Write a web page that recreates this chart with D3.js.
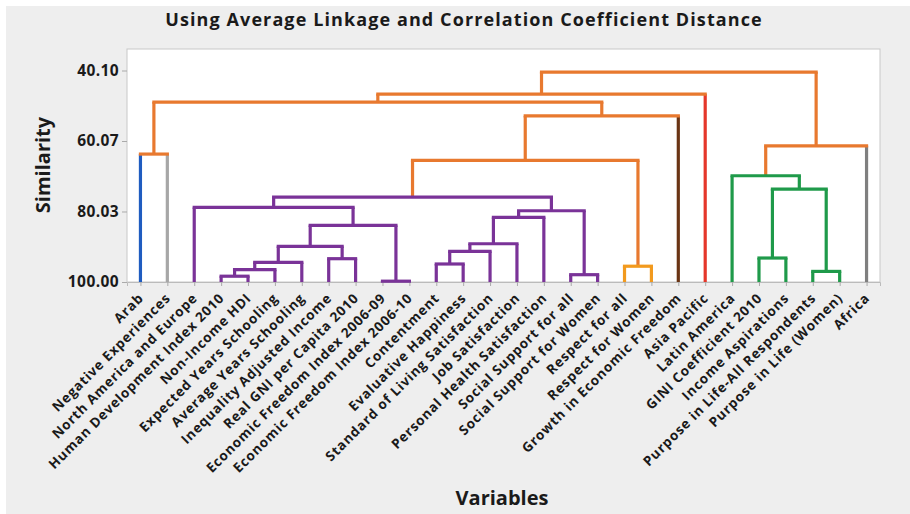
<!DOCTYPE html>
<html>
<head>
<meta charset="utf-8">
<script src="https://cdn.jsdelivr.net/npm/d3@7"></script>
<style>
  body { margin: 0; background: #fff; }
  text { font-family: "Open Sans", "DejaVu Sans", sans-serif; font-weight: bold; fill: #1a1a1a; }
</style>
</head>
<body>
<div id="chart"></div>
<script>

// leaves of the dendrogram, left to right
const variables = [
    "Arab", "Negative Experiences", "North America and Europe",
    "Human Development Index 2010", "Non-Income HDI", "Expected Years Schooling",
    "Average Years Schooling", "Inequality Adjusted Income", "Real GNI per Capita 2010",
    "Economic Freedom Index 2006-09", "Economic Freedom Index 2006-10", "Contentment",
    "Evaluative Happiness", "Standard of Living Satisfaction", "Job Satisfaction",
    "Personal Health Satisfaction", "Social Support for all", "Social Support for Women",
    "Respect for all", "Respect for Women", "Growth in Economic Freedom",
    "Asia Pacific", "Latin America", "GINI Coefficient 2010", "Income Aspirations",
    "Purpose in Life-All Respondents", "Purpose in Life (Women)", "Africa"
]

// final cluster of each leaf
const leafCluster = [1, 2, 3, 3, 3, 3, 3, 3, 3, 3, 3, 3, 3, 3, 3, 3, 3, 3, 4, 4, 5, 6, 7, 7, 7, 7, 7, 8]

// merges: [child a, child b, similarity]; ids >= 28 are earlier merges (28 + row)
const merges = [
    [3, 4, 98.36],
    [28, 5, 96.52],
    [29, 6, 94.45],
    [7, 8, 93.40],
    [30, 31, 89.92],
    [9, 10, 99.77],
    [32, 33, 83.98],
    [2, 34, 78.88],
    [11, 12, 94.90],
    [36, 13, 91.34],
    [37, 14, 89.16],
    [38, 15, 81.71],
    [16, 17, 97.93],
    [39, 40, 79.82],
    [35, 41, 75.94],
    [18, 19, 95.53],
    [42, 43, 65.58],
    [44, 20, 52.93],
    [0, 1, 63.77],
    [46, 45, 49.04],
    [47, 21, 46.78],
    [23, 24, 93.21],
    [25, 26, 97.00],
    [49, 50, 73.68],
    [22, 51, 69.91],
    [52, 27, 61.42],
    [48, 53, 40.55]
]

// cluster a merge belongs to (0 = above the cut)
const mergeCluster = [3, 3, 3, 3, 3, 3, 3, 3, 3, 3, 3, 3, 3, 3, 3, 4, 0, 0, 0, 0, 0, 7, 7, 7, 7, 0, 0]

const yTicks = [40.10, 60.07, 80.03, 100.00]

const color = d3.scaleOrdinal()
    .domain([0, 1, 2, 3, 4, 5, 6, 7, 8])
    .range(["#e8792f", "#1f5cc0", "#a7a7a7", "#7a3398", "#f29a1e", "#6a3414", "#e5372a", "#1f9a4a", "#7f7f7f"])

const W = 910, H = 514
const margin = ({top: 49, right: 30, bottom: 232, left: 127})
const width = W - margin.left - margin.right,
    height = H - margin.top - margin.bottom

const svg = d3.select("#chart").append("svg")
    .attr("width", W)
    .attr("height", H)

svg.append("rect")
    .attr("x", 6).attr("y", 6)
    .attr("width", W - 6).attr("height", H - 6)
    .attr("fill", "#eeeeee")

const g = svg.append("g")
    .attr("transform", "translate(" + margin.left + "," + margin.top + ")")

g.append("rect")
    .attr("width", width)
    .attr("height", height)
    .attr("fill", "#fff")
    .attr("stroke", "#c8c8c8")

const xScale = d3.scalePoint()
    .domain(d3.range(variables.length))
    .range([0, width])
    .padding(0.5)

const yScale = d3.scaleLinear()
    .domain([100, 40.10])
    .range([height, 21.5])

// axes
const yAxis = d3.axisLeft(yScale)
    .tickValues(yTicks)
    .tickFormat(d3.format(".2f"))
    .tickSize(5)
    .tickPadding(3)

const ya = g.append("g").call(yAxis)
ya.select(".domain").remove()
ya.selectAll("line").attr("stroke", "#aaa")
ya.selectAll("text")
    .style("font-size", "15.5px")
    .attr("letter-spacing", "0.4")
    .attr("fill", "#1a1a1a")

const xAxis = d3.axisBottom(xScale)
    .tickSize(4)
    .tickFormat("")

const xa = g.append("g")
    .attr("transform", `translate(0, ${height})`)
    .call(xAxis)
xa.select(".domain").attr("stroke", "#bbb")
xa.selectAll("line").attr("stroke", "#aaa")

g.selectAll(".leaf-label")
    .data(variables)
    .enter()
    .append("text")
    .attr("class", "leaf-label")
    .attr("text-anchor", "end")
    .attr("transform", (d, i) => `translate(${xScale(i) + 4}, ${height + 17}) rotate(-45)`)
    .style("font-size", "13.5px")
    .attr("letter-spacing", "0.8")
    .text(d => d)

// tree geometry
const n = variables.length
const nodeX = [], nodeY = []
for (let i = 0; i < n; i++) {
    nodeX[i] = xScale(i)
    nodeY[i] = 100
}
merges.forEach((m, k) => {
    nodeX[n + k] = (nodeX[m[0]] + nodeX[m[1]]) / 2
    nodeY[n + k] = m[2]
})

const verticals = []
const horizontals = []
merges.forEach((m, k) => {
    const c = mergeCluster[k]
    m.slice(0, 2).forEach(ch => {
        verticals.push({x: nodeX[ch], y0: nodeY[ch], y1: m[2], c: ch < n ? leafCluster[ch] : c})
    })
    horizontals.push({x0: nodeX[m[0]], x1: nodeX[m[1]], y: m[2], c: c})
})

g.selectAll(".vlink")
    .data(verticals)
    .enter()
    .append("line")
    .attr("class", "vlink")
    .attr("x1", d => d.x).attr("x2", d => d.x)
    .attr("y1", d => yScale(d.y0)).attr("y2", d => yScale(d.y1))
    .attr("stroke", d => color(d.c))
    .attr("stroke-width", 3.2)

g.selectAll(".hlink")
    .data(horizontals)
    .enter()
    .append("line")
    .attr("class", "hlink")
    .attr("x1", d => d.x0).attr("x2", d => d.x1)
    .attr("y1", d => yScale(d.y)).attr("y2", d => yScale(d.y))
    .attr("stroke", d => color(d.c))
    .attr("stroke-width", 3.2)
    .attr("stroke-linecap", "square")

// titles
svg.append("text")
    .attr("x", 464)
    .attr("y", 26)
    .attr("text-anchor", "middle")
    .style("font-size", "18px")
    .attr("letter-spacing", "1.1")
    .text("Using Average Linkage and Correlation Coefficient Distance")

svg.append("text")
    .attr("transform", "translate(50, 165) rotate(-90)")
    .attr("text-anchor", "middle")
    .style("font-size", "20px")
    .text("Similarity")

svg.append("text")
    .attr("x", 502)
    .attr("y", 505)
    .attr("text-anchor", "middle")
    .style("font-size", "20px")
    .text("Variables")

</script>
</body>
</html>
